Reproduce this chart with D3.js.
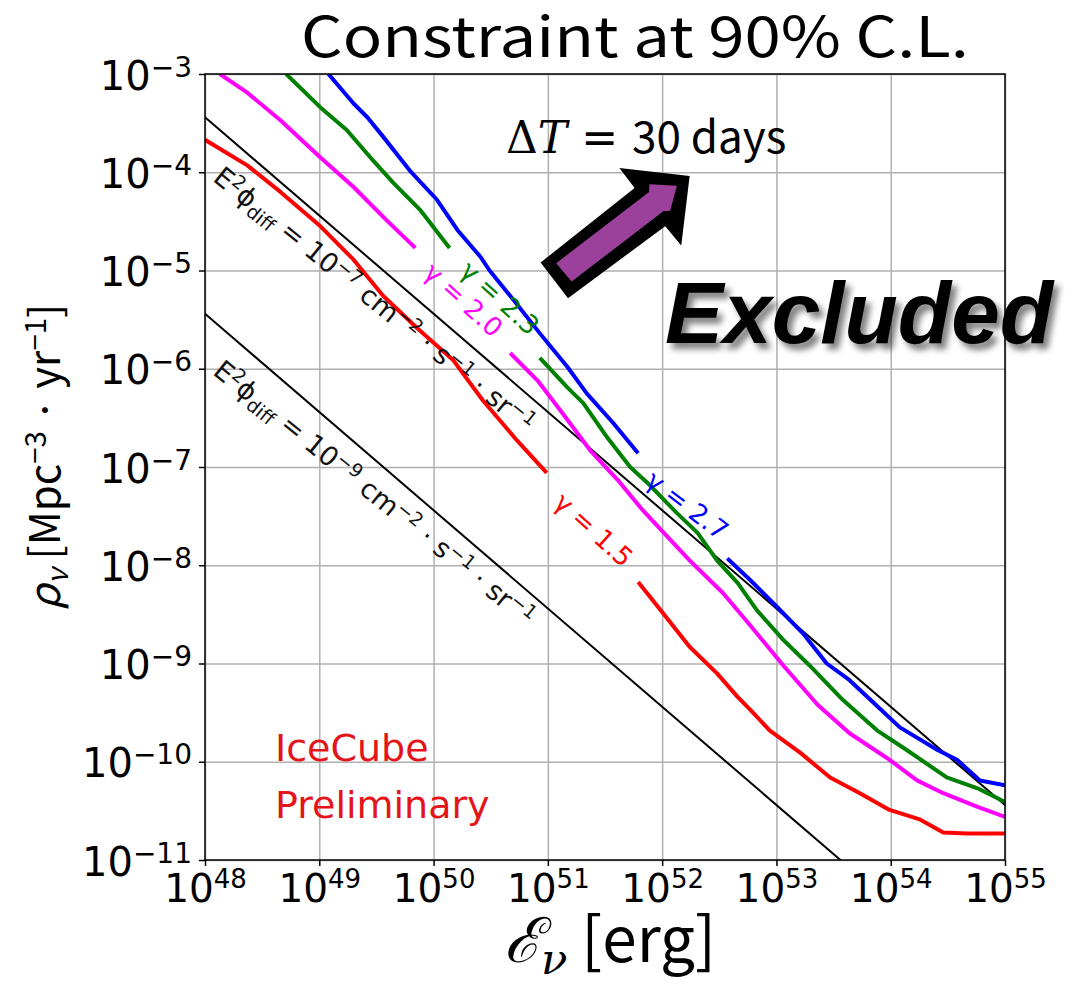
<!DOCTYPE html>
<html>
<head>
<meta charset="utf-8">
<script src="https://cdn.jsdelivr.net/npm/d3@7"></script>
<style>
  body { margin: 0; background: #fff; }
  svg { display: block; }
</style>
</head>
<body>
<svg id="chart" width="1077" height="988"></svg>
<script>
// Decades shown on each axis (log10 values)
const energyDecades = [48, 49, 50, 51, 52, 53, 54, 55];
const rateDecades = [-11, -10, -9, -8, -7, -6, -5, -4, -3];

// 90% C.L. upper limits on the source rate density for each spectral index.
// log10 E [erg] and log10 rho [Mpc^-3 yr^-1]; null leaves room for the curve label.
const gamma27LogE   = [49.08, 49.30, 49.42, 49.56, 49.79, 50.03, 50.21, 50.41, 50.49, 50.70, 50.93, 51.17, 51.34, 51.57, 51.79, null, 52.57, 52.77, 53.01, 53.23, 53.44, 53.64, 53.85, 54.08, 54.41, 54.58, 54.78, 55.00];
const gamma27LogRho = [-3.00, -3.30, -3.44, -3.64, -3.98, -4.28, -4.59, -4.86, -5.00, -5.30, -5.64, -5.98, -6.25, -6.55, -6.86, null, -7.93, -8.15, -8.43, -8.69, -9.00, -9.17, -9.40, -9.65, -9.88, -9.98, -10.19, -10.24];

const gamma23LogE   = [48.71, 49.01, 49.24, 49.47, 49.65, 49.88, 50.14, null, 50.93, 51.17, 51.31, 51.52, 51.72, 51.87, 52.13, 52.31, 52.48, 52.66, 52.83, 53.06, 53.29, 53.58, 53.88, 54.14, 54.49, 54.76, 55.00];
const gamma23LogRho = [-3.00, -3.34, -3.57, -3.88, -4.11, -4.38, -4.77, null, -5.89, -6.19, -6.35, -6.70, -7.00, -7.16, -7.47, -7.67, -7.95, -8.18, -8.46, -8.76, -9.02, -9.37, -9.68, -9.88, -10.16, -10.27, -10.41];

const gamma20LogE   = [48.13, 48.37, 48.66, 49.01, 49.30, 49.59, 49.84, null, 50.67, 50.91, 51.12, 51.37, 51.61, 51.83, 52.07, 52.24, 52.53, 52.77, 53.06, 53.36, 53.64, 53.99, 54.23, 54.46, 54.76, 55.00];
const gamma20LogRho = [-3.00, -3.19, -3.47, -3.85, -4.15, -4.49, -4.77, null, -5.84, -6.12, -6.44, -6.83, -7.13, -7.44, -7.74, -7.95, -8.28, -8.61, -9.02, -9.42, -9.71, -9.98, -10.19, -10.32, -10.46, -10.56];

const gamma15LogE   = [48.00, 48.37, 48.66, 49.01, 49.30, 49.56, 49.86, 50.17, 50.43, 50.73, 50.99, null, 51.79, 52.01, 52.24, 52.48, 52.66, 52.77, 52.94, 53.21, 53.47, 53.73, 53.99, 54.26, 54.46, 54.67, 55.00];
const gamma15LogRho = [-3.67, -3.93, -4.20, -4.55, -4.89, -5.26, -5.59, -5.91, -6.32, -6.73, -7.06, null, -8.17, -8.49, -8.83, -9.10, -9.34, -9.47, -9.68, -9.91, -10.16, -10.32, -10.49, -10.59, -10.72, -10.73, -10.73];

// Lines of constant diffuse flux E^2 phi_diff (endpoints in log10 E, log10 rho)
const isoFluxLogE = [48, 55];
const isoFlux7LogRho = [-3.44, -10.44];
const isoFlux9LogRho = [-5.44, -12.44];

const series = [
  { name: "γ = 2.7", logE: gamma27LogE, logRho: gamma27LogRho, color: "#0000ff", label: [52.22, -7.39, 37] },
  { name: "γ = 2.3", logE: gamma23LogE, logRho: gamma23LogRho, color: "#008000", label: [50.58, -5.28, 42] },
  { name: "γ = 2.0", logE: gamma20LogE, logRho: gamma20LogRho, color: "#ff00ff", label: [50.26, -5.30, 42] },
  { name: "γ = 1.5", logE: gamma15LogE, logRho: gamma15LogRho, color: "#ff0000", label: [51.40, -7.64, 42] }
];

const plot = { left: 205, right: 1005, top: 74, bottom: 860 };
const x = d3.scaleLog().domain([1e48, 1e55]).range([plot.left, plot.right]);
const y = d3.scaleLog().domain([1e-11, 1e-3]).range([plot.bottom, plot.top]);
const svg = d3.select("#chart");

const SANS = "'DejaVu Sans', sans-serif";
const GOTHIC = "'Noto Sans CJK JP', 'Noto Sans', sans-serif";

// text with superscripts / subscripts: parts = [[string, 0|1|-1, attrs?], ...]
function richText(textSel, parts, size, opts = {}) {
  const small = opts.small != null ? opts.small : size * 0.7;
  const rise = opts.rise != null ? opts.rise : size * 0.33;
  const drop = opts.drop != null ? opts.drop : size * 0.2;
  let offset = 0;
  parts.forEach(([t, kind, extra]) => {
    const target = kind === 1 ? -rise : kind === -1 ? drop : 0;
    const ts = textSel.append("tspan")
      .attr("dy", target - offset)
      .attr("font-size", kind === 0 ? size : small)
      .text(t);
    if (extra) Object.entries(extra).forEach(([k, v]) => ts.attr(k, v));
    offset = target;
  });
}

svg.append("defs").append("clipPath").attr("id", "plot-clip")
  .append("rect")
  .attr("x", plot.left).attr("y", plot.top)
  .attr("width", plot.right - plot.left).attr("height", plot.bottom - plot.top);

// grid
svg.append("g")
  .attr("transform", `translate(0,${plot.bottom})`)
  .call(d3.axisBottom(x).tickValues(energyDecades.map(e => 10 ** e))
    .tickSize(-(plot.bottom - plot.top)).tickFormat(""))
  .call(g => { g.select(".domain").remove();
    g.selectAll(".tick line").attr("stroke", "#b0b0b0").attr("stroke-width", 1.5); });
svg.append("g")
  .attr("transform", `translate(${plot.left},0)`)
  .call(d3.axisLeft(y).tickValues(rateDecades.map(e => 10 ** e))
    .tickSize(-(plot.right - plot.left)).tickFormat(""))
  .call(g => { g.select(".domain").remove();
    g.selectAll(".tick line").attr("stroke", "#b0b0b0").attr("stroke-width", 1.5); });

const plotArea = svg.append("g").attr("clip-path", "url(#plot-clip)");

// constant-flux reference lines
[isoFlux7LogRho, isoFlux9LogRho].forEach(rho => {
  plotArea.append("line")
    .attr("x1", x(10 ** isoFluxLogE[0])).attr("y1", y(10 ** rho[0]))
    .attr("x2", x(10 ** isoFluxLogE[1])).attr("y2", y(10 ** rho[1]))
    .attr("stroke", "#000").attr("stroke-width", 2);
});

// limit curves
const line = d3.line()
  .defined(d => d !== null)
  .x(d => x(d[0])).y(d => y(d[1]))
  .curve(d3.curveLinear);
series.forEach(s => {
  const pts = s.logE.map((e, i) => e === null ? null : [10 ** e, 10 ** s.logRho[i]]);
  plotArea.append("path")
    .attr("d", line(pts))
    .attr("fill", "none")
    .attr("stroke", s.color)
    .attr("stroke-width", 4)
    .attr("stroke-linejoin", "round");
});

// curve labels
series.forEach(s => {
  const [le, lr, ang] = s.label;
  svg.append("text")
    .attr("transform", `translate(${x(10 ** le)},${y(10 ** lr)}) rotate(${ang})`)
    .attr("text-anchor", "middle").attr("dominant-baseline", "central")
    .attr("font-family", SANS).attr("font-size", 26)
    .attr("fill", s.color)
    .text(s.name);
});

// constant-flux labels
const fluxLabels = [
  { exp: "−7", pos: [49.43, -5.37] },
  { exp: "−9", pos: [49.43, -7.34] }
];
fluxLabels.forEach(f => {
  const t = svg.append("text")
    .attr("transform", `translate(${x(10 ** f.pos[0])},${y(10 ** f.pos[1])}) rotate(39)`)
    .attr("text-anchor", "middle")
    .attr("font-family", SANS).attr("fill", "#111");
  richText(t, [["E", 0], ["2", 1], ["ϕ", 0], ["diff", -1], [" = 10", 0], [f.exp, 1],
    [" cm", 0], ["−2", 1], [" · s", 0], ["−1", 1], [" · sr", 0], ["−1", 1]], 27);
});

// frame
svg.append("rect")
  .attr("x", plot.left).attr("y", plot.top)
  .attr("width", plot.right - plot.left).attr("height", plot.bottom - plot.top)
  .attr("fill", "none").attr("stroke", "#000").attr("stroke-width", 1.5);

// axes with tick labels 10^n
const xAxis = svg.append("g")
  .attr("transform", `translate(0,${plot.bottom})`)
  .call(d3.axisBottom(x).tickValues(energyDecades.map(e => 10 ** e)).tickSize(6).tickFormat(""));
xAxis.select(".domain").remove();
xAxis.selectAll(".tick line").attr("stroke", "#000").attr("stroke-width", 1.5);
xAxis.selectAll(".tick").each(function (d, i) {
  const t = d3.select(this).append("text")
    .attr("y", 42).attr("text-anchor", "middle")
    .attr("font-family", SANS).attr("fill", "#000");
  richText(t, [["10", 0], [String(energyDecades[i]), 1]], 39, { rise: 14, small: 26 });
});

const yAxis = svg.append("g")
  .attr("transform", `translate(${plot.left},0)`)
  .call(d3.axisLeft(y).tickValues(rateDecades.map(e => 10 ** e)).tickSize(6).tickFormat(""));
yAxis.select(".domain").remove();
yAxis.selectAll(".tick line").attr("stroke", "#000").attr("stroke-width", 1.5);
yAxis.selectAll(".tick").each(function (d, i) {
  const t = d3.select(this).append("text")
    .attr("x", -13).attr("y", 15).attr("text-anchor", "end")
    .attr("font-family", SANS).attr("fill", "#000");
  richText(t, [["10", 0], ["−" + String(Math.abs(rateDecades[i])), 1]], 40, { rise: 13 });
});

// axis titles
const xt = svg.append("text")
  .attr("x", 610).attr("y", 962).attr("text-anchor", "middle")
  .attr("font-family", GOTHIC).attr("fill", "#000");
richText(xt, [["ℰ", 0, { "font-family": "'DejaVu Serif', serif", "font-style": "italic" }],
  ["ν", -1, { "font-family": "'DejaVu Serif', serif", "font-style": "italic" }],
  [" [erg]", 0]], 62, { drop: 12 });

const yt = svg.append("text")
  .attr("transform", "translate(60,457) rotate(-90)")
  .attr("text-anchor", "middle")
  .attr("font-family", GOTHIC).attr("fill", "#000");
richText(yt, [["ρ", 0, { "font-style": "italic" }], ["ν", -1, { "font-style": "italic" }],
  [" [Mpc", 0], ["−3", 1], [" · yr", 0], ["−1", 1], ["]", 0]], 42);

// title
svg.append("text")
  .attr("x", 635).attr("y", 57).attr("text-anchor", "middle")
  .attr("font-family", GOTHIC).attr("font-size", 56)
  .attr("textLength", 668).attr("lengthAdjust", "spacingAndGlyphs")
  .attr("fill", "#000")
  .text("Constraint at 90% C.L.");

// observation window
const dt = svg.append("text")
  .attr("x", 506).attr("y", 153)
  .attr("font-size", 44).attr("fill", "#000");
dt.append("tspan").attr("font-family", "'DejaVu Serif', serif").text("Δ");
dt.append("tspan").attr("font-family", "'DejaVu Serif', serif").attr("font-style", "italic").text("T");
dt.append("tspan").attr("font-family", SANS).text(" = ");
dt.append("tspan").attr("font-family", GOTHIC).text("30 days");

// arrow towards the excluded region
const arrow = svg.append("g").attr("transform", "translate(554,280) rotate(-37.5)");
arrow.append("polygon")
  .attr("points", [[0, -22], [120, -24], [120, -49], [171, 0], [122, 50], [121, 25], [0, 23]].join(" "))
  .attr("fill", "#000");
arrow.append("polygon")
  .attr("points", [[12, -12], [129, -12], [134, -18], [155, 0], [134, 16], [129, 12], [13, 12]].join(" "))
  .attr("fill", "#9b409b");

// "Excluded" with soft drop shadow
const shadow = svg.select("defs").append("filter").attr("id", "shadow")
  .attr("x", "-10%").attr("y", "-20%").attr("width", "130%").attr("height", "150%");
shadow.append("feGaussianBlur").attr("in", "SourceAlpha").attr("stdDeviation", 3).attr("result", "b");
shadow.append("feOffset").attr("in", "b").attr("dx", 5).attr("dy", 6).attr("result", "o");
shadow.append("feComponentTransfer").attr("in", "o").attr("result", "s")
  .append("feFuncA").attr("type", "linear").attr("slope", 0.5);
const merge = shadow.append("feMerge");
merge.append("feMergeNode").attr("in", "s");
merge.append("feMergeNode").attr("in", "SourceGraphic");

svg.append("text")
  .attr("x", 665).attr("y", 343)
  .attr("font-family", "'Liberation Sans', Arial, sans-serif")
  .attr("font-weight", "bold").attr("font-style", "italic")
  .attr("font-size", 88)
  .attr("textLength", 388).attr("lengthAdjust", "spacingAndGlyphs")
  .attr("fill", "#000").attr("filter", "url(#shadow)")
  .text("Excluded");

// collaboration tag
const tag = svg.append("g").attr("font-family", SANS).attr("font-size", 38).attr("fill", "#e3151a");
tag.append("text").attr("x", 275).attr("y", 761).text("IceCube");
tag.append("text").attr("x", 275).attr("y", 818).text("Preliminary");
</script>
</body>
</html>
